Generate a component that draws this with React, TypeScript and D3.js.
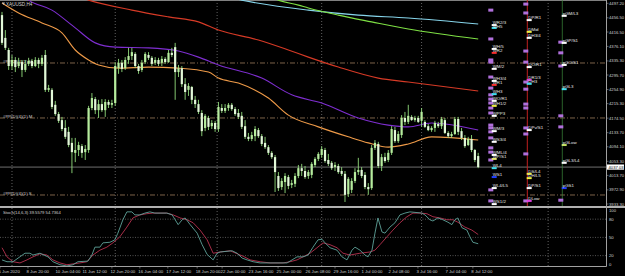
import React from 'react';
import * as d3 from 'd3';

const W = 625;
const H = 276;

// ---- candle data (XAUUSD H4) ----
const opens = [4464,4400,4366,4321,4338,4321,4332,4310,4327,4335,
 4321,4338,4327,4352,4254,4254,4212,4186,4169,4147,
 4136,4105,4077,4085,4096,4079,4085,4203,4228,4197,
 4214,4197,4220,4212,4217,4315,4330,4315,4338,4349,
 4355,4321,4310,4332,4352,4344,4330,4338,4330,4341,
 4332,4358,4374,4304,4315,4270,4254,4262,4226,4214,
 4189,4147,4175,4152,4161,4144,4203,4195,4203,4212,
 4200,4189,4181,4152,4122,4116,4124,4141,4124,4105,
 4093,4077,4065,4012,3981,3995,4009,3987,3990,4012,
 4034,4026,4012,4015,4043,4060,4071,4085,4057,4049,
 4037,4040,4026,4018,3961,3973,3998,4023,4029,4015,
 3981,3978,4091,4102,4040,4065,4057,4077,4141,4110,
 4127,4175,4164,4178,4169,4175,4167,4164,4152,4141,
 4147,4158,4152,4169,4133,4124,4130,4172,4138,4119,
 4099,4116,4085,4068];
const highs = [4473,4422,4372,4352,4346,4344,4338,4338,4344,4341,
 4346,4344,4352,4366,4268,4259,4223,4192,4178,4169,
 4150,4119,4119,4108,4102,4099,4209,4245,4234,4226,
 4228,4228,4226,4226,4332,4341,4338,4346,4372,4372,
 4360,4327,4338,4360,4360,4349,4346,4344,4349,4346,
 4366,4372,4386,4324,4321,4287,4273,4265,4237,4226,
 4197,4186,4181,4169,4167,4220,4214,4214,4217,4217,
 4206,4200,4192,4169,4133,4136,4152,4147,4130,4122,
 4099,4082,4071,4023,4006,4020,4015,4001,4020,4043,
 4046,4040,4029,4051,4065,4079,4096,4091,4074,4054,
 4051,4046,4037,4026,4009,4006,4034,4063,4037,4023,
 3992,4099,4113,4108,4074,4077,4085,4152,4150,4138,
 4183,4192,4212,4183,4181,4181,4203,4169,4158,4152,
 4167,4164,4178,4175,4138,4136,4178,4178,4147,4127,
 4122,4127,4088,4077];
const lows = [4380,4366,4310,4310,4304,4315,4290,4304,4321,4315,
 4318,4315,4321,4248,4248,4200,4181,4161,4138,4116,
 4093,4020,4051,4068,4063,4057,4077,4197,4186,4175,
 4192,4178,4203,4203,4209,4299,4304,4310,4327,4338,
 4315,4299,4304,4327,4338,4321,4324,4321,4321,4327,
 4330,4346,4226,4290,4262,4226,4237,4214,4203,4186,
 4124,4138,4141,4144,4136,4136,4189,4189,4195,4195,
 4181,4172,4144,4116,4110,4110,4110,4119,4096,4088,
 4071,4060,3967,3970,3973,3964,3975,3978,3981,4006,
 4012,4004,4004,4006,4037,4054,4063,4049,4040,4029,
 4026,4018,4012,3939,3953,3964,3992,4015,4006,3975,
 3959,3973,4085,4034,4026,4049,4051,4071,4105,4105,
 4119,4155,4158,4167,4164,4161,4150,4147,4138,4136,
 4136,4147,4144,4130,4119,4119,4127,4127,4113,4091,
 4096,4079,4051,4034];
const closes = [4386,4372,4321,4338,4318,4332,4310,4327,4335,4321,
 4338,4327,4344,4254,4259,4206,4186,4167,4144,4122,
 4099,4079,4085,4099,4077,4088,4203,4231,4197,4214,
 4197,4220,4212,4217,4321,4330,4313,4338,4349,4360,
 4321,4307,4330,4355,4344,4327,4338,4327,4341,4332,
 4358,4352,4304,4315,4270,4248,4265,4226,4214,4192,
 4138,4181,4150,4161,4144,4206,4195,4203,4212,4200,
 4186,4178,4150,4122,4116,4127,4144,4124,4102,4093,
 4077,4065,4023,3978,3998,4012,3984,3992,4012,4034,
 4026,4009,4023,4046,4060,4074,4088,4054,4046,4034,
 4043,4023,4018,3959,4004,3998,4023,4029,4012,3981,
 3975,4091,4105,4040,4065,4054,4077,4144,4110,4130,
 4175,4164,4181,4169,4175,4164,4192,4150,4141,4147,
 4161,4152,4172,4133,4124,4130,4172,4136,4119,4096,
 4116,4085,4057,4037.03];

// ---- moving averages: [bar index, price] ----
const maOrange = [[0,4498],[5,4470],[12,4442],[18,4414],[22,4366],[26,4338],[29,4324],[35,4315],[44,4318],[53,4315],[62,4304],[65,4287],[71,4273],[80,4231],[86,4183],[95,4150],[104,4122],[110,4105],[116,4093],[122,4102],[129,4122],[143,4113]];
const maPurple = [[6,4521],[8,4506],[15,4478],[22,4428],[28,4386],[34,4374],[44,4372],[53,4363],[59,4346],[65,4324],[78,4287],[87,4240],[96,4217],[107,4175],[116,4155],[122,4150],[129,4161],[143,4141]];
const maRed = [[22,4518],[26,4506],[39,4478],[50,4459],[59,4445],[65,4422],[77,4394],[86,4366],[92,4346],[101,4318],[113,4287],[122,4276],[143,4251]];
const maCyan = [[65,4521],[72,4506],[92,4478],[107,4464],[122,4456],[143,4439]];
const maGreen = [[79,4521],[83,4506],[89,4492],[92,4484],[101,4464],[111,4445],[122,4425],[143,4397]];

// ---- stochastic: [bar index, value] ----
const stochMain = [[0,13],[1.5,10],[3.3,10],[6.9,24],[8.4,24],[9.3,21],[11.4,24],[13.8,18],[15.3,10],[17.4,5],[19.5,3],[21.3,5],[22.8,10],[25.8,11],[27,21],[27.9,34],[29.4,34],[30.3,41],[32.4,42],[33.9,46],[34.8,57],[36.3,79],[37.5,92],[39,92],[39.9,87],[41.4,87],[42.9,90],[44.4,92],[45.9,90],[49.5,90],[51.1,87],[52,79],[52.9,71],[54.1,79],[55,82],[56.5,71],[58.6,57],[60.1,38],[61.6,22],[63.4,13],[64.6,24],[65.5,26],[69.1,28],[70.6,24],[72.1,16],[73.6,13],[75.4,10],[77.5,8],[85.6,8],[87.1,13],[88.6,18],[90.4,18],[91.9,21],[93.4,34],[94.9,46],[96.1,47],[97,41],[98.5,33],[100.6,29],[102.1,18],[103.6,13],[105.1,29],[106,34],[107.5,29],[109,21],[109.9,18],[111.1,29],[112,57],[112.9,82],[114.1,59],[115,57],[116.5,67],[118,74],[119.5,87],[121,90],[122.5,92],[126.1,90],[127,87],[128.5,79],[129.4,77],[130.9,82],[132.4,79],[133.9,75],[135.1,71],[136,79],[136.9,82],[138.1,66],[139.6,62],[140.5,51],[141.4,42],[143,39.56]];
const stochSignal = [[0,33],[1.5,18],[3.3,10],[5.4,8],[7.5,13],[9.3,18],[11.4,23],[13.5,21],[15.3,13],[17.4,8],[19.5,5],[23.4,8],[25.5,10],[27.3,21],[29.4,29],[31.5,34],[33.3,41],[35.4,51],[37.5,67],[39.3,82],[41.4,87],[43.5,89],[45.3,90],[49.5,90],[51.4,87],[53.5,82],[55.6,79],[57.4,74],[59.5,62],[61.6,46],[63.4,24],[65.5,26],[68.5,28],[72.4,19],[74.5,13],[77.5,10],[80.5,8],[84.4,8],[86.5,10],[88.6,13],[90.4,18],[92.5,24],[94.6,33],[96.4,41],[98.5,38],[100.6,33],[102.4,24],[104.5,21],[107.5,24],[110.5,26],[112,29],[113.5,38],[115.6,51],[117.4,62],[119.5,74],[121.6,84],[123.4,90],[125.5,90],[127.6,89],[129.4,84],[131.5,82],[133.6,79],[135.4,79],[136.9,75],[139,67],[141.1,62],[143,54.74]];

// ---- axes ----
const priceTicks = [4497.2,4456.5,4416.5,4376.1,4335.3,4295.7,4254.9,4215.3,4174.5,4133.7,4094.1,4053.3,4013.7,3972.9,3933.3];
const currentPrice = 4037.03;
const stochLevels = [100, 80, 50, 20, 0];
const timeLabels = ["5 Jun 2020","8 Jun 20:00","10 Jun 04:00","11 Jun 12:00","12 Jun 20:00","16 Jun 04:00","17 Jun 12:00","18 Jun 20:00","22 Jun 00:00","23 Jun 16:00","25 Jun 00:00","26 Jun 08:00","29 Jun 16:00","1 Jul 00:00","2 Jul 08:00","3 Jul 16:00","7 Jul 04:00","8 Jul 12:00"];
const timeLabelBars = [-0.6,7.8,16.5,24.6,33,41.4,49.8,58.6,66.1,74.5,82.9,91.6,100,108.4,116.5,124.9,133.6,141.4];
const gridBars = [3, 34, 64.6, 96, 126, 164];

// ---- pivot lines ----
const pivotLines = [4329.5, 4175, 3958.6];
const pivotLineNames = ["#PP(D)(4)(1).M", "#PP(D)(4)(1).M", "#PP(D)(4)(1).S"];

// ---- pivot level labels: [name, price, marker colour] ----
const wLevels = [["WR2/3",4436,"#ffffff"],["WH5",4428,"#40e0f0"],["WH/5",4369,"#ffffff"],["WR2",4358,"#ff3030"],["WM/2",4313,"#ffffff"],["WH3/4",4279,"#ffffff"],["WR1",4268,"#ff3030"],["WH3",4242,"#40e0f0"],["WO/R1",4223,"#ffffff"],["WH1/2",4209,"#e8e840"],["WPP3",4181,"#ffffff"],["WM/3",4138,"#ffffff"],["WS3/4",4108,"#ffffff"],["WML/4",4071,"#ffffff"],["WP/S1",4060,"#e8e870"],["WL4",4034,"#40e0f0"],["WS1",4009,"#2040ff"],["WL4/L5",3978,"#ffffff"],["WS1/2",3933,"#ffffff"]];
const dLevels = [["DP/R1",4450,"#ffffff"],["DMid",4417,"#f0f040"],["DH3/4",4400,"#ffffff"],["DO/R1",4318,"#ffffff"],["DR1/3",4282,"#e040e0"],["DH3",4271,"#40e0f0"],["DPv/S1",4141,"#ffffff"],["DS/L4",4018,"#f0f040"],["DH/L5",4006,"#f0f040"],["DP/S1",3978,"#ffffff"],["DLow",3942,"#e040e0"]];
const pgLevels = [["pGM/L3",4462,"#ffffff"],["pGP/S1",4386,"#ffffff"],["pGO/S1",4324,"#ffffff"],["pGL3",4256,"#40e0f0"],["pGLow",4099,"#c0e060"],["pGL3/L4",4049,"#ffffff"],["pGS1",3978,"#2040ff"]];
const wPurple = [4478,4397,4338,4332,4290,4259,4240,4228,4217,4203,4189,4155,4147,4136,4119,4091,4079,4057,3973,3942];
const dPurple = [4495,4470,4363,4332,4276,4256,4214,4203,4147,4130,4074,3942];
const pgPurple = [4388,4358,4321,4181,4150,3944];

const FONT = "Liberation Sans, Arial, sans-serif";

export default function App() {
  React.useEffect(() => { document.body.style.margin = '0'; }, []);
  const x = d3.scaleLinear().domain([0, 143]).range([2, 478.2]);
  const y = d3.scaleLinear().domain([4497.2, 3933.3]).range([3.3, 204]);
  const ys = d3.scaleLinear().domain([0, 100]).range([267.8, 207]);
  const maLine = d3.line().x((d: any) => x(d[0])).y((d: any) => y(d[1])).curve(d3.curveMonotoneX);
  const stLine = d3.line().x((d: any) => x(d[0])).y((d: any) => ys(d[1])).curve(d3.curveLinear);
  const fmt = d3.format('.2f');
  const AX = 606.5;

  const columns = [
    { levels: wLevels, purple: wPurple, px: 488.3, mx: 491.7, tx: 492.7 },
    { levels: dLevels, purple: dPurple, px: 523.3, mx: 526.7, tx: 528.3 },
    { levels: pgLevels, purple: pgPurple, px: 558.3, mx: 561.7, tx: 562.7 },
  ];

  // simple collision layout for the level texts of each column
  const layoutLevels = (levels: any[]) => {
    let prev = -100;
    return levels.map((lv: any) => {
      const my = y(lv[1]);
      const ty = Math.max(my - 1.3, prev + 4.7);
      prev = ty;
      return { name: lv[0], color: lv[2], my, ty };
    });
  };

  return (
    <div style={{ position: 'absolute', left: 0, top: 0 }}>
      <svg width={W} height={H} style={{ display: 'block', background: '#000' }} fontFamily={FONT}>
        <defs>
          <clipPath id="mainClip"><rect x={0} y={0} width={AX} height={206} /></clipPath>
          <clipPath id="stClip"><rect x={0} y={208} width={AX} height={58.5} /></clipPath>
        </defs>
        <rect x={0} y={0} width={W} height={H} fill="#000" />
        <line x1={0} x2={AX} y1={0.5} y2={0.5} stroke="#808080" strokeWidth={1} />

        <g clipPath="url(#mainClip)">
          {gridBars.map((b, i) => (
            <line key={'g' + i} x1={x(b)} x2={x(b)} y1={0} y2={206} stroke="#7a7a7a" strokeWidth={0.8} strokeDasharray="1,2" />
          ))}
          {pivotLines.map((p, i) => (
            <g key={'pl' + i}>
              <line x1={0} x2={AX} y1={y(p)} y2={y(p)} stroke="#9a7b5c" strokeWidth={0.8} strokeDasharray="5,2,1,2" />
              <text x={3} y={y(p) + 0.3} fontSize={4.3} fill="#c8c8c8">{pivotLineNames[i]}</text>
            </g>
          ))}
          <line x1={0} x2={AX} y1={y(currentPrice)} y2={y(currentPrice)} stroke="#8c8c8c" strokeWidth={0.8} />

          <path d={maLine(maCyan as any) || ''} fill="none" stroke="#86d4ea" strokeWidth={1.1} />
          <path d={maLine(maGreen as any) || ''} fill="none" stroke="#7ee044" strokeWidth={1.1} />
          <path d={maLine(maRed as any) || ''} fill="none" stroke="#d63a26" strokeWidth={1.1} />
          <path d={maLine(maPurple as any) || ''} fill="none" stroke="#7e2ed0" strokeWidth={1.1} />
          <path d={maLine(maOrange as any) || ''} fill="none" stroke="#ee9a48" strokeWidth={1.1} />

          {closes.map((c, i) => {
            const o = opens[i];
            const cx = x(i);
            const top = y(Math.max(o, c));
            const bot = y(Math.min(o, c));
            const bull = c > o;
            return (
              <g key={'c' + i}>
                <line x1={cx} x2={cx} y1={y(highs[i])} y2={y(lows[i])} stroke="#92dc7c" strokeWidth={0.9} />
                <rect x={cx - 1.1} y={top} width={2.2} height={Math.max(0.8, bot - top)} fill={bull ? '#b6ec9e' : '#e2f8d8'} />
              </g>
            );
          })}

          <line x1={527.3} x2={527.3} y1={0} y2={206} stroke="#c02020" strokeWidth={1} />
          <line x1={562.3} x2={562.3} y1={0} y2={206} stroke="#3c8c3c" strokeWidth={0.7} />

          {columns.map((col, ci) => (
            <g key={'col' + ci}>
              {col.purple.map((p, j) => (
                <rect key={'p' + j} x={col.px} y={y(p) - 1.5} width={5} height={3} fill="#b070dc" />
              ))}
              {layoutLevels(col.levels).map((lv: any, j: number) => (
                <g key={'l' + j}>
                  <rect x={col.mx} y={lv.my - 1} width={5} height={2} fill={lv.color} />
                  <text x={col.tx} y={lv.ty} fontSize={4.4} fill="#e6e6e6">{lv.name}</text>
                </g>
              ))}
            </g>
          ))}
        </g>

        <rect x={0} y={206} width={W} height={2} fill="#b0b0b0" />

        <g clipPath="url(#stClip)">
          {gridBars.map((b, i) => (
            <line key={'sg' + i} x1={x(b)} x2={x(b)} y1={208} y2={266} stroke="#7a7a7a" strokeWidth={0.8} strokeDasharray="1,2" />
          ))}
          {[80, 50, 20].map((v) => (
            <line key={'sl' + v} x1={0} x2={AX} y1={ys(v)} y2={ys(v)} stroke="#6a6a6a" strokeWidth={0.8} strokeDasharray="1,1.5" />
          ))}
          <path d={stLine(stochSignal as any) || ''} fill="none" stroke="#b8324f" strokeWidth={0.9} />
          <path d={stLine(stochMain as any) || ''} fill="none" stroke="#5fa39a" strokeWidth={0.9} />
        </g>
        <text x={3} y={214} fontSize={4.2} fill="#d0d0d0">Stoch(14,6,3) 39.5579 54.7364</text>

        <line x1={AX} x2={AX} y1={0} y2={266.5} stroke="#a0a0a0" strokeWidth={1} />
        <line x1={0} x2={AX} y1={266.5} y2={266.5} stroke="#a0a0a0" strokeWidth={1} />

        {priceTicks.map((p, i) => (
          <g key={'pt' + i}>
            <line x1={AX} x2={AX + 2} y1={y(p)} y2={y(p)} stroke="#a0a0a0" strokeWidth={0.6} />
            <text x={609} y={y(p) + 1.5} fontSize={4.2} fill="#d0d0d0">{fmt(p)}</text>
          </g>
        ))}
        <rect x={607} y={y(currentPrice) - 2.6} width={17} height={5.2} fill="#ffffff" />
        <text x={608.5} y={y(currentPrice) + 1.5} fontSize={4.2} fill="#000">{fmt(currentPrice)}</text>

        {stochLevels.map((v) => {
          const yy = Math.max(210, Math.min(264.3, ys(v)));
          return (
            <text key={'sv' + v} x={609} y={yy + 1.5} fontSize={4.2} fill="#d0d0d0">{v}</text>
          );
        })}

        {timeLabels.map((t, i) => (
          <g key={'t' + i}>
            <line x1={x(timeLabelBars[i])} x2={x(timeLabelBars[i])} y1={266.5} y2={268.5} stroke="#a0a0a0" strokeWidth={0.6} />
            <text x={x(timeLabelBars[i]) - 1.5} y={273.3} fontSize={4.3} fill="#d0d0d0">{t}</text>
          </g>
        ))}

        <path d="M2,2.6 L5,2.6 L3.5,5 Z" fill="#c0c0c0" />
        <text x={6} y={5.5} fontSize={4.6} fill="#d0d0d0">XAUUSD,H4</text>
      </svg>
    </div>
  );
}
